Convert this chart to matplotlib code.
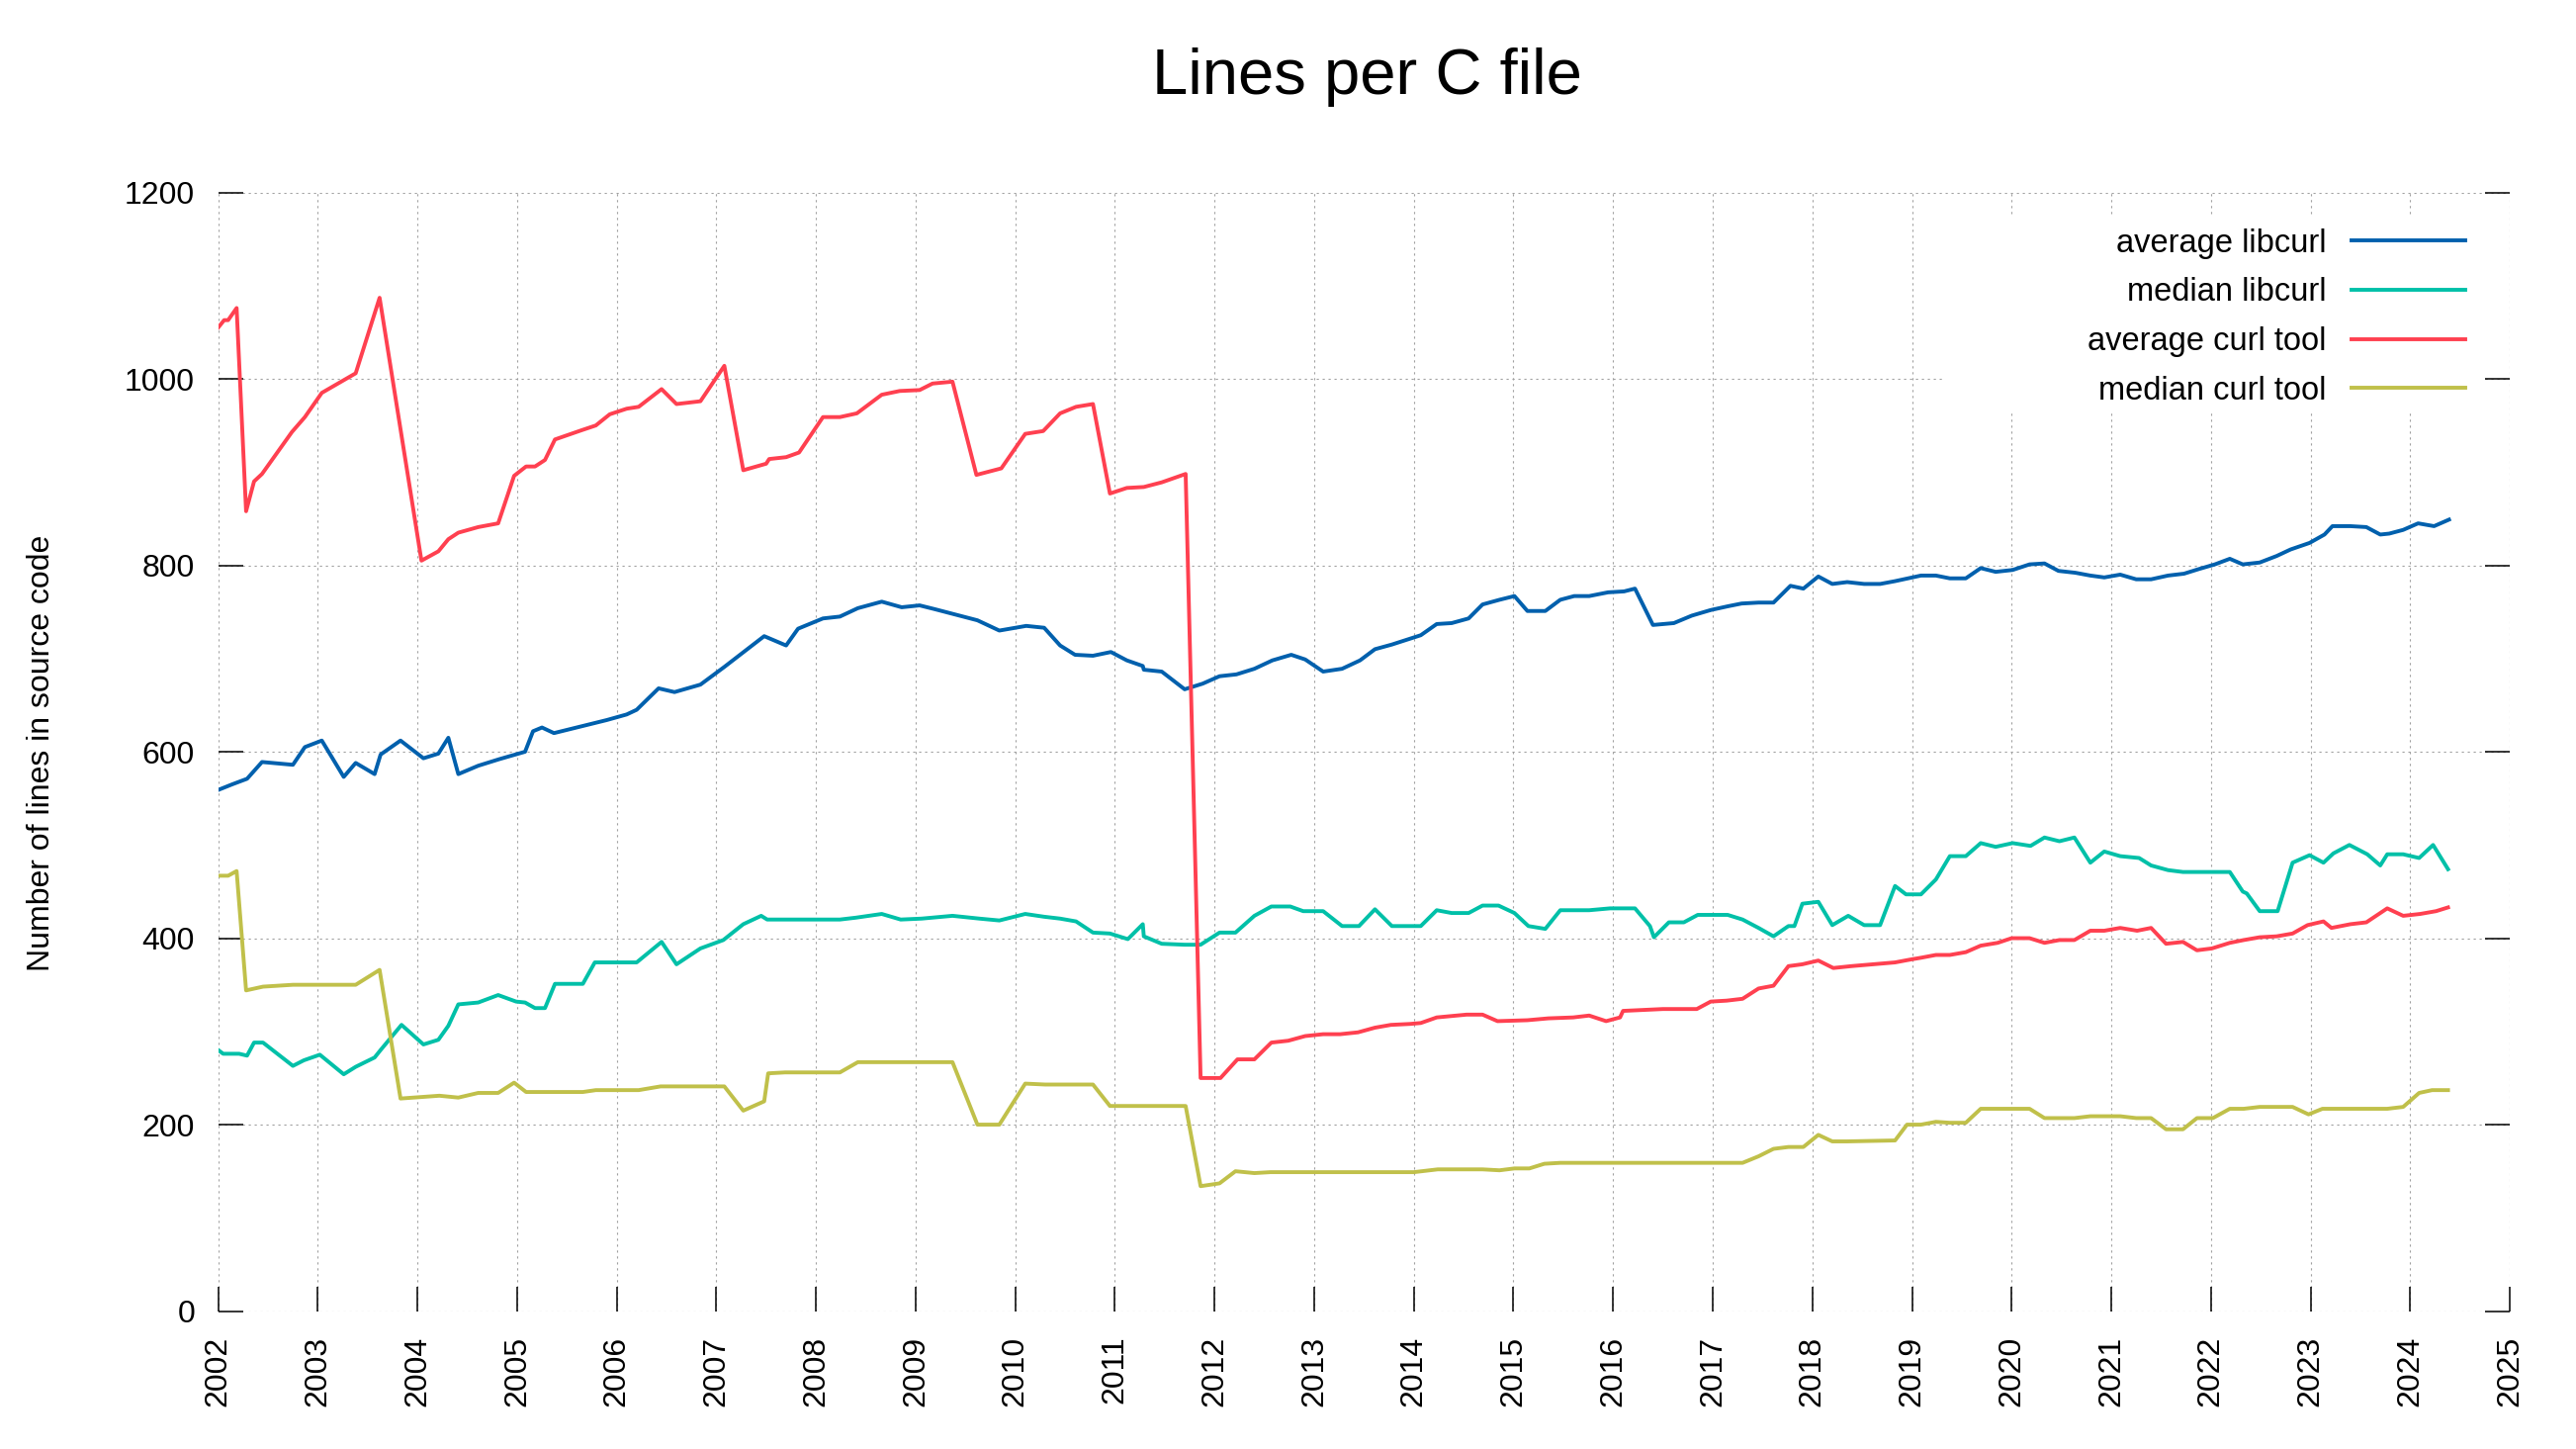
import matplotlib.pyplot as plt
from matplotlib.patches import Rectangle

plt.rcParams['font.family'] = ['Liberation Sans', 'DejaVu Sans']

# release dates (fractional years) and lines per C file
avg_lib_t = [2002.00, 2002.14, 2002.29, 2002.44, 2002.75, 2002.87, 2003.04, 2003.26, 2003.38, 2003.57,
             2003.63, 2003.83, 2004.06, 2004.21, 2004.31, 2004.41, 2004.61, 2004.82, 2005.08, 2005.16,
             2005.25, 2005.37, 2005.90, 2006.10, 2006.20, 2006.42, 2006.58, 2006.84, 2007.08, 2007.48,
             2007.70, 2007.82, 2008.07, 2008.24, 2008.42, 2008.66, 2008.86, 2009.04, 2009.19, 2009.37,
             2009.62, 2009.84, 2010.11, 2010.29, 2010.45, 2010.60, 2010.78, 2010.96, 2011.12, 2011.28,
             2011.29, 2011.47, 2011.70, 2011.88, 2012.05, 2012.22, 2012.40, 2012.58, 2012.77, 2012.91,
             2013.09, 2013.28, 2013.46, 2013.61, 2013.78, 2014.07, 2014.23, 2014.38, 2014.55, 2014.69,
             2014.86, 2015.01, 2015.14, 2015.32, 2015.47, 2015.61, 2015.76, 2015.95, 2016.11, 2016.22,
             2016.40, 2016.61, 2016.79, 2016.98, 2017.15, 2017.29, 2017.46, 2017.61, 2017.78, 2017.91,
             2018.06, 2018.20, 2018.35, 2018.52, 2018.68, 2018.83, 2019.09, 2019.24, 2019.38, 2019.54,
             2019.69, 2019.84, 2020.01, 2020.18, 2020.33, 2020.47, 2020.64, 2020.79, 2020.93, 2021.09,
             2021.25, 2021.40, 2021.57, 2021.73, 2021.88, 2022.04, 2022.19, 2022.32, 2022.49, 2022.66,
             2022.80, 2022.99, 2023.14, 2023.22, 2023.40, 2023.56, 2023.70, 2023.79, 2023.93, 2024.08,
             2024.24, 2024.39]
avg_lib_v = [559, 565, 571, 589, 586, 605, 612, 573, 588, 576,
             597, 612, 593, 598, 615, 576, 585, 592, 600, 622,
             626, 620, 634, 640, 645, 668, 664, 672, 691, 724,
             714, 732, 743, 745, 754, 761, 755, 757, 753, 748,
             741, 730, 735, 733, 714, 704, 703, 707, 698, 692,
             688, 686, 667, 673, 681, 683, 689, 698, 704, 699,
             686, 689, 698, 710, 715, 725, 737, 738, 743, 758,
             763, 767, 751, 751, 763, 767, 767, 771, 772, 775,
             736, 738, 746, 752, 756, 759, 760, 760, 778, 775,
             788, 780, 782, 780, 780, 783, 789, 789, 786, 786,
             797, 793, 795, 801, 802, 794, 792, 789, 787, 790,
             785, 785, 789, 791, 796, 801, 807, 801, 803, 810,
             817, 824, 833, 842, 842, 841, 833, 834, 838, 845,
             842, 849]

med_lib_t = [2002.00, 2002.05, 2002.21, 2002.29, 2002.36, 2002.45, 2002.75, 2002.86, 2003.02, 2003.26,
             2003.38, 2003.57, 2003.63, 2003.84, 2004.06, 2004.21, 2004.31, 2004.41, 2004.61, 2004.81,
             2004.99, 2005.08, 2005.18, 2005.28, 2005.38, 2005.66, 2005.78, 2006.20, 2006.45, 2006.60,
             2006.84, 2007.07, 2007.27, 2007.45, 2007.51, 2008.24, 2008.40, 2008.66, 2008.85, 2009.06,
             2009.37, 2009.64, 2009.84, 2010.10, 2010.29, 2010.45, 2010.61, 2010.78, 2010.95, 2011.13,
             2011.28, 2011.29, 2011.47, 2011.70, 2011.86, 2012.05, 2012.21, 2012.40, 2012.57, 2012.76,
             2012.89, 2013.09, 2013.28, 2013.45, 2013.61, 2013.78, 2014.07, 2014.23, 2014.38, 2014.55,
             2014.69, 2014.85, 2015.01, 2015.15, 2015.32, 2015.47, 2015.76, 2015.97, 2016.22, 2016.37,
             2016.41, 2016.56, 2016.71, 2016.85, 2017.15, 2017.30, 2017.46, 2017.61, 2017.76, 2017.82,
             2017.90, 2018.06, 2018.20, 2018.36, 2018.52, 2018.68, 2018.83, 2018.94, 2019.09, 2019.24,
             2019.38, 2019.54, 2019.69, 2019.84, 2020.01, 2020.19, 2020.33, 2020.48, 2020.63, 2020.79,
             2020.93, 2021.09, 2021.28, 2021.40, 2021.57, 2021.72, 2022.19, 2022.32, 2022.36, 2022.49,
             2022.67, 2022.82, 2022.99, 2023.13, 2023.23, 2023.39, 2023.57, 2023.70, 2023.77, 2023.93,
             2024.09, 2024.23, 2024.38]
med_lib_v = [280, 276, 276, 274, 288, 288, 263, 269, 275, 254,
             262, 272, 280, 307, 286, 291, 306, 329, 331, 339,
             332, 331, 325, 325, 351, 351, 374, 374, 396, 372,
             389, 398, 415, 424, 420, 420, 422, 426, 420, 421,
             424, 421, 419, 426, 423, 421, 418, 406, 405, 399,
             415, 402, 394, 393, 393, 406, 406, 424, 434, 434,
             429, 429, 413, 413, 431, 413, 413, 430, 427, 427,
             435, 435, 427, 413, 410, 430, 430, 432, 432, 413,
             401, 417, 417, 425, 425, 420, 411, 402, 413, 413,
             437, 439, 414, 424, 414, 414, 456, 447, 447, 463,
             488, 488, 502, 498, 502, 499, 508, 504, 508, 481,
             493, 488, 486, 478, 473, 471, 471, 450, 448, 429,
             429, 481, 489, 481, 491, 500, 490, 478, 490, 490,
             486, 500, 474]

avg_tool_t = [2002.00, 2002.06, 2002.10, 2002.185, 2002.28, 2002.36, 2002.44, 2002.74, 2002.87, 2003.04,
              2003.38, 2003.62, 2004.04, 2004.21, 2004.31, 2004.41, 2004.61, 2004.81, 2004.97, 2005.09,
              2005.18, 2005.28, 2005.38, 2005.65, 2005.79, 2005.93, 2006.10, 2006.22, 2006.45, 2006.60,
              2006.84, 2007.08, 2007.27, 2007.50, 2007.53, 2007.70, 2007.83, 2008.07, 2008.24, 2008.41,
              2008.66, 2008.84, 2009.04, 2009.17, 2009.37, 2009.61, 2009.86, 2010.10, 2010.28, 2010.45,
              2010.61, 2010.78, 2010.95, 2011.12, 2011.29, 2011.47, 2011.71, 2011.86, 2012.06, 2012.23,
              2012.40, 2012.57, 2012.74, 2012.91, 2013.09, 2013.26, 2013.44, 2013.61, 2013.77, 2013.96,
              2014.07, 2014.23, 2014.53, 2014.69, 2014.84, 2015.14, 2015.35, 2015.60, 2015.76, 2015.93,
              2016.07, 2016.10, 2016.50, 2016.84, 2016.98, 2017.14, 2017.30, 2017.46, 2017.61, 2017.76,
              2017.90, 2018.06, 2018.21, 2018.39, 2018.83, 2018.98, 2019.09, 2019.24, 2019.38, 2019.54,
              2019.69, 2019.86, 2020.00, 2020.18, 2020.33, 2020.48, 2020.63, 2020.79, 2020.93, 2021.09,
              2021.26, 2021.40, 2021.55, 2021.72, 2021.86, 2022.01, 2022.19, 2022.33, 2022.49, 2022.66,
              2022.82, 2022.97, 2023.13, 2023.21, 2023.40, 2023.56, 2023.77, 2023.93, 2024.10, 2024.26,
              2024.38]
avg_tool_v = [1055, 1063, 1063, 1076, 858, 890, 898, 943, 959, 985,
              1006, 1087, 805, 815, 828, 835, 841, 845, 896, 906,
              906, 913, 935, 945, 950, 962, 968, 970, 989, 973,
              976, 1014, 902, 909, 914, 916, 921, 959, 959, 963,
              983, 987, 988, 995, 997, 897, 904, 941, 944, 963,
              970, 973, 877, 883, 884, 889, 898, 250, 250, 270,
              270, 288, 290, 295, 297, 297, 299, 304, 307, 308,
              309, 315, 318, 318, 311, 312, 314, 315, 317, 311,
              315, 322, 324, 324, 332, 333, 335, 346, 349, 370,
              372, 376, 368, 370, 374, 377, 379, 382, 382, 385,
              392, 395, 400, 400, 395, 398, 398, 408, 408, 411,
              408, 411, 394, 396, 387, 389, 395, 398, 401, 402,
              405, 414, 418, 411, 415, 417, 432, 424, 426, 429,
              433]

med_tool_t = [2002.00, 2002.10, 2002.185, 2002.28, 2002.45, 2002.75, 2003.38, 2003.62, 2003.83, 2004.22,
              2004.41, 2004.61, 2004.81, 2004.97, 2005.09, 2005.66, 2005.79, 2006.22, 2006.44, 2007.08,
              2007.27, 2007.48, 2007.52, 2007.69, 2008.24, 2008.42, 2009.37, 2009.62, 2009.84, 2010.10,
              2010.30, 2010.78, 2010.95, 2011.71, 2011.86, 2012.05, 2012.21, 2012.40, 2012.56, 2014.00,
              2014.24, 2014.69, 2014.86, 2015.01, 2015.16, 2015.31, 2015.47, 2015.76, 2017.30, 2017.46,
              2017.61, 2017.76, 2017.91, 2018.06, 2018.20, 2018.35, 2018.83, 2018.95, 2019.09, 2019.24,
              2019.38, 2019.54, 2019.69, 2020.18, 2020.33, 2020.63, 2020.79, 2021.09, 2021.25, 2021.40,
              2021.55, 2021.72, 2021.86, 2022.02, 2022.19, 2022.33, 2022.49, 2022.82, 2022.98, 2023.12,
              2023.77, 2023.93, 2024.09, 2024.22, 2024.38]
med_tool_v = [467, 467, 472, 344, 348, 350, 350, 366, 228, 231,
              229, 234, 234, 245, 235, 235, 237, 237, 241, 241,
              215, 225, 255, 256, 256, 267, 267, 200, 200, 244,
              243, 243, 220, 220, 134, 137, 150, 148, 149, 149,
              152, 152, 151, 153, 153, 158, 159, 159, 159, 166,
              174, 176, 176, 189, 182, 182, 183, 200, 200, 203,
              202, 202, 217, 217, 207, 207, 209, 209, 207, 207,
              195, 195, 207, 207, 217, 217, 219, 219, 211, 217,
              217, 219, 234, 237, 237]

years = list(range(2002, 2026))
yticks = list(range(0, 1201, 200))

fig = plt.figure(figsize=(26.05, 14.65), dpi=100)
ax = fig.add_axes([0.0847, 0.0952, 0.8896, 0.772])

ax.plot(avg_lib_t, avg_lib_v, color='#0060ad', lw=2.8, label='average libcurl')
ax.plot(med_lib_t, med_lib_v, color='#00c0a8', lw=2.8, label='median libcurl')
ax.plot(avg_tool_t, avg_tool_v, color='#ff4050', lw=2.8, label='average curl tool')
ax.plot(med_tool_t, med_tool_v, color='#c0c04a', lw=2.8, label='median curl tool')

ax.set_xlim(2002, 2025)
ax.set_ylim(0, 1200)
ax.set_xticks(years)
ax.set_xticklabels([str(y) for y in years], rotation=90)
ax.set_yticks(yticks)

for s in ax.spines.values():
    s.set_visible(False)
ax.tick_params(axis='both', direction='in', length=18, width=1.1, labelsize=23, color='black')
ax.tick_params(axis='y', right=True, pad=17)
ax.tick_params(axis='x', pad=18)
ax.grid(True, color='#a0a0a0', lw=0.8, linestyle=(0, (2, 3.4)))
ax.set_axisbelow(True)

# white key area that hides the grid behind the legend
ax.add_patch(Rectangle((0.7532, 0.8024), 0.2348, 0.1759, transform=ax.transAxes,
                       facecolor='white', edgecolor='none', zorder=1.5))
ax.legend(loc='upper right', bbox_to_anchor=(0.9806, 0.968), frameon=False, markerfirst=False,
          fontsize=23.5, handlelength=3.53, handletextpad=0.77, labelspacing=0.57,
          borderpad=0, borderaxespad=0)

fig.text(0.5305, 0.9352, 'Lines per C file', fontsize=47, ha='center', va='baseline')
fig.text(0.0161, 0.4805, 'Number of lines in source code', fontsize=23, rotation=90,
         ha='center', va='center')

fig.savefig('out.png', dpi=100)
